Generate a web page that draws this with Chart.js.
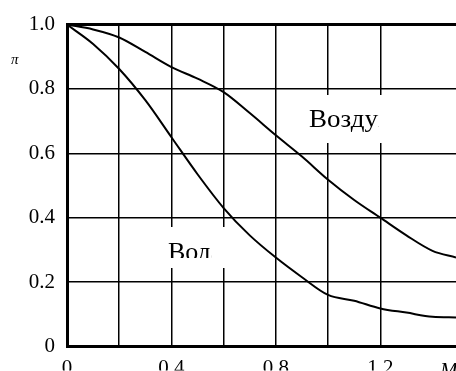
<!DOCTYPE html>
<html>
<head>
<meta charset="utf-8">
<script src="https://cdn.jsdelivr.net/npm/chart.js@4/dist/chart.umd.min.js"></script>
<style>
html,body{margin:0;padding:0;background:#fff;}
#wrap{width:456px;height:371px;position:relative;}
</style>
</head>
<body>
<div id="wrap"><canvas id="c" width="456" height="371"></canvas></div>
<script>
// ---- data ----
const mValues = [0, 0.1, 0.2, 0.3, 0.4, 0.5, 0.6, 0.7, 0.8, 0.9, 1.0, 1.1, 1.2, 1.3, 1.4, 1.49];
const waterPi = [1.0, 0.94, 0.862, 0.765, 0.65, 0.535, 0.43, 0.345, 0.276, 0.215, 0.16, 0.142, 0.118, 0.105, 0.092, 0.09];
const airPi   = [1.0, 0.985, 0.96, 0.915, 0.868, 0.832, 0.79, 0.725, 0.656, 0.59, 0.518, 0.455, 0.40, 0.345, 0.297, 0.276];
const xTickLabels = ['0', '0.4', '0.8', '1.2'];
const yTickLabels = ['0', '0.2', '0.4', '0.6', '0.8', '1.0'];
const waterLabel = 'Вода';
const airLabel = 'Воздух';
const yTitle = 'π';
const xTitle = 'M';

const FONT = "'Liberation Serif', 'Times New Roman', serif";
Chart.defaults.font.family = FONT;
Chart.defaults.color = '#000';

const toPts = (xs, ys) => xs.map((x, i) => ({x: x, y: ys[i]}));

const annot = {
  id: 'annot',
  afterDraw(chart) {
    const ctx = chart.ctx;
    ctx.save();
    // Air label box (text cut off by the box edge)
    ctx.fillStyle = '#fff';
    ctx.fillRect(300, 95, 86, 48);
    ctx.save();
    ctx.font = "25px " + FONT;
    const wAir = ctx.measureText(airLabel.slice(0, 5)).width * 1.08;
    ctx.beginPath(); ctx.rect(300, 95, 309 - 300 + wAir + 0.5, 48); ctx.clip();
    ctx.fillStyle = '#000';
    ctx.textBaseline = 'alphabetic';
    ctx.textAlign = 'left';
    ctx.translate(309, 127);
    ctx.scale(1.08, 1);
    ctx.fillText(airLabel, 0, 0);
    ctx.restore();
    // Water label box (text cut off)
    ctx.fillStyle = '#fff';
    ctx.fillRect(160, 227, 69, 41);
    ctx.save();
    ctx.font = "26px " + FONT;
    const wWat = ctx.measureText(waterLabel.slice(0, 3)).width;
    ctx.beginPath(); ctx.rect(160, 227, 168 - 160 + wWat + 0.5, 31); ctx.clip();
    ctx.fillStyle = '#000';
    ctx.textAlign = 'left';
    ctx.fillText(waterLabel, 168, 260);
    ctx.restore();
    // axis titles
    ctx.fillStyle = '#000';
    ctx.font = "italic 15px " + FONT;
    ctx.textAlign = 'left';
    ctx.textBaseline = 'alphabetic';
    ctx.fillText(yTitle, 11, 64);
    ctx.font = "italic 21px " + FONT;
    ctx.fillText(xTitle, 440, 377);
    ctx.restore();
  }
};

new Chart(document.getElementById('c'), {
  type: 'line',
  data: {
    datasets: [
      { label: waterLabel, data: toPts(mValues, waterPi), borderColor: '#000', borderWidth: 2, pointRadius: 0, cubicInterpolationMode: 'monotone', fill: false },
      { label: airLabel, data: toPts(mValues, airPi), borderColor: '#000', borderWidth: 2, pointRadius: 0, cubicInterpolationMode: 'monotone', fill: false }
    ]
  },
  options: {
    responsive: false,
    animation: false,
    events: [],
    layout: { padding: { top: 21, right: 0, left: 0, bottom: 0 } },
    plugins: { legend: { display: false }, tooltip: { enabled: false } },
    scales: {
      x: {
        type: 'linear', min: 0, max: 1.49,
        afterBuildTicks(scale) {
          scale.ticks = scale.ticks.filter(t => Math.abs(t.value / 0.2 - Math.round(t.value / 0.2)) < 1e-6);
        },
        afterFit(scale) { scale.height = 24; },
        ticks: {
          stepSize: 0.2, autoSkip: false, maxRotation: 0, padding: 9,
          font: { size: 21 },
          callback(v) {
            const i = Math.round(v / 0.4 * 1000) / 1000;
            return Number.isInteger(i) ? xTickLabels[i] : '';
          }
        },
        grid: { color: '#000', lineWidth: 1.5, drawTicks: false },
        border: { display: true, color: '#000', width: 3 }
      },
      y: {
        min: 0, max: 1,
        afterFit(scale) { scale.width = 67; },
        ticks: {
          stepSize: 0.2, padding: 12, font: { size: 21 },
          callback(v) { return yTickLabels[Math.round(v / 0.2)]; }
        },
        grid: {
          color: '#000', drawTicks: false,
          lineWidth: (c) => (c.tick && (c.tick.value === 1 || c.tick.value === 0)) ? 3 : 1.5
        },
        border: { display: true, color: '#000', width: 3 }
      }
    }
  },
  plugins: [annot]
});
</script>
</body>
</html>
